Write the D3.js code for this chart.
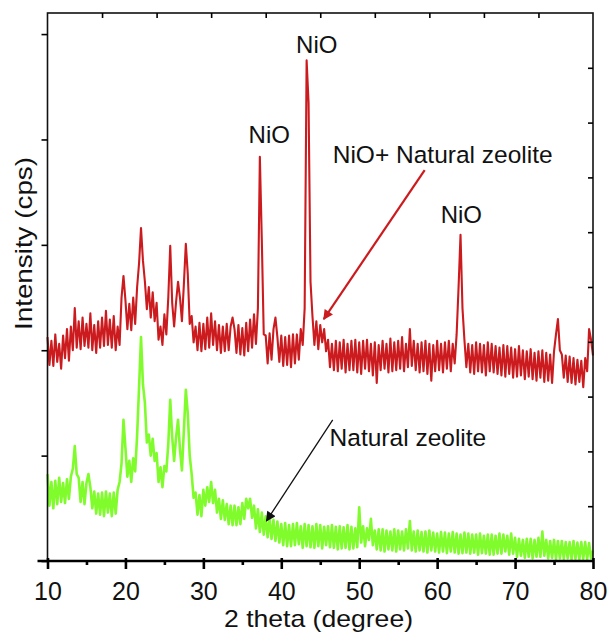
<!DOCTYPE html>
<html>
<head>
<meta charset="utf-8">
<script src="https://cdn.jsdelivr.net/npm/d3@7"></script>
<style>
  body { margin: 0; background: #fff; }
  svg text { font-family: "Liberation Sans", Arial, sans-serif; fill: #111; }
</style>
</head>
<body>
<svg id="chart" width="610" height="633"></svg>
<script>
// scan grid: 10 to 80 degrees, 0.25 degree step
const thetaStart = 10;
const thetaStep = 0.25;

// NiO + natural zeolite (red), 4 readings per degree
const nioZeolite = [
  425, 372, 418, 370,  430, 378, 412, 365,  428, 385, 440, 380,  445, 400, 480, 405,
  455, 402, 462, 408,  450, 405, 470, 400,  448, 395, 455, 405,  462, 408, 475, 410,
  458, 405, 465, 400,  445, 410, 500, 541,  495, 440, 488, 438,  500, 450, 520, 565,
  632, 570, 530, 478,  520, 462, 510, 455,  490, 420, 445, 410,  468, 430, 500, 598,
  490, 445, 492, 530,  500, 455, 525, 602,  545, 450, 465, 415,  445, 400, 452, 398,
  450, 402, 462, 405,  470, 410, 455, 400,  448, 395, 445, 398,  450, 400, 445, 462,
  440, 395, 448, 392,  442, 390, 452, 398,  458, 405, 468, 412,  480, 767, 610, 430,
  428, 375, 432, 382,  440, 462, 425, 378,  428, 370, 425, 372,  428, 368, 430, 375,
  430, 382, 440, 410,  480, 950, 870, 530,  465, 410, 455, 402,  448, 415, 440, 398,
  420, 368, 412, 362,  418, 360, 415, 365,  420, 358, 412, 362,  418, 362, 420, 358,
  415, 355, 418, 365,  420, 360, 412, 352,  415, 338, 410, 362,  418, 365, 412, 358,
  422, 360, 415, 362,  418, 365, 425, 360,  412, 368, 440, 370,  418, 362, 412, 358,
  415, 360, 418, 355,  412, 342, 410, 360,  418, 362, 412, 358,  415, 365, 418, 360,
  412, 375, 430, 520,  619, 480, 420, 368,  412, 358, 410, 355,  415, 360, 412, 358,
  410, 352, 415, 360,  412, 358, 408, 355,  405, 352, 410, 350,  408, 355, 405, 348,
  402, 350, 408, 352,  400, 345, 398, 350,  402, 345, 395, 342,  398, 348, 400, 340,
  395, 342, 392, 338,  398, 430, 459, 400,  392, 348, 390, 340,  388, 338, 385, 335,
  382, 340, 380, 330,  385, 360, 440, 420,  390
];

// natural zeolite (green)
const zeolite = [
  165, 105, 150, 100,  152, 108, 158, 112,  148, 110, 155, 118,  160, 175, 218, 165,
  158, 112, 150, 108,  148, 165, 140, 100,  132,  90, 128,  88,  130,  85, 132,  92,
  128,  85, 130,  90,  135, 150, 185, 268,  215, 160, 190, 150,  195, 170, 238, 330,
  425, 335, 300, 225,  240, 200, 232, 190,  205, 150, 178, 140,  180, 170, 222, 306,
  235, 190, 235, 268,  212, 172, 248, 325,  280, 200, 165, 120,  130,  88, 125,  85,
  135, 105, 140, 112,  150, 110, 135,  92,  118,  80, 115,  78,  108,  70, 105,  68,
  105,  68, 102,  70,  110,  80, 118, 100,  118,  82, 105,  62,   98,  55,  92,  50,
   85,  45,  82,  42,   78,  38,  75,  35,   70,  30,  72,  28,   68,  28,  70,  30,
   72,  32,  66,  25,   70,  28,  68,  26,   66,  25,  70,  28,   68,  24,  65,  30,
   66,  26,  68,  25,   65,  22,  66,  24,   64,  25,  68,  22,   65,  24,  62,  26,
  102,  35,  66,  28,   62,  40,  80,  30,   58,  22,  60,  20,   60,  18,  58,  22,
   56,  20,  60,  18,   58,  22,  56,  20,   60,  24,  76,  20,   56,  18,  58,  20,
   55,  18,  56,  16,   58,  20,  54,  18,   52,  16,  55,  18,   54,  15,  52,  18,
   55,  16,  52,  14,   50,  15,  54,  16,   52,  14,  50,  16,   50,  12,  52,  15,
   48,  14,  50,  12,   50,  12,  48,  14,   52,  14,  50,  18,   48,  12,  52,  14,
   44,   8,  42,  10,   40,   6,  42,   8,   42,   5,  40,   8,   44,   8,  56,  10,
   40,   5,  38,   6,   40,   4,  38,   5,   38,   4,  36,   5,   36,   3,  38,   4,
   35,   3,  36,   4,   36,   3,  34,   5,   20
];

const xTicks = [10, 20, 30, 40, 50, 60, 70, 80];
const xMinorTicks = [15, 25, 35, 45, 55, 65, 75];
const topTicks = [17, 24, 31, 38, 45, 52, 59, 66, 73];
const leftTicks = [0, 200, 400, 600, 800, 1000];
const rightTicks = [104, 208, 312, 416, 520, 624, 728, 832, 936];

const peakLabels = [
  { text: 'NiO', theta: 44.55, cps: 965 },
  { text: 'NiO', theta: 38.46, cps: 793 },
  { text: 'NiO', theta: 63.1, cps: 642 }
];
const sampleLabels = [
  { text: 'NiO+ Natural zeolite', theta: 46.6, cps: 755 },
  { text: 'Natural zeolite', theta: 46.2, cps: 218 }
];
const arrows = [
  { from: [58.4, 742], to: [45.45, 459], color: '#cc1b1e', width: 2.2 },
  { from: [46.6, 268], to: [38.1, 76], color: '#111', width: 1.3 }
];

const margin = { top: 13, right: 17, bottom: 72, left: 47.5 };
const width = 610 - margin.left - margin.right;
const height = 633 - margin.top - margin.bottom;

const svg = d3.select('#chart');
const g = svg.append('g').attr('transform', `translate(${margin.left},${margin.top})`);

const xScale = d3.scaleLinear().domain([10, 80]).range([0, width]);
const yScale = d3.scaleLinear().domain([0, 1040]).range([height, 0]);

const toPoints = values => values.map((v, i) => ({ theta: thetaStart + i * thetaStep, cps: v }));

const line = d3
  .line()
  .x(d => xScale(d.theta))
  .y(d => yScale(d.cps));

g.append('path')
  .attr('d', line(toPoints(zeolite)))
  .style('fill', 'none')
  .style('stroke', '#80fc2c')
  .style('stroke-width', 2.6)
  .style('stroke-linejoin', 'round');

g.append('path')
  .attr('d', line(toPoints(nioZeolite)))
  .style('fill', 'none')
  .style('stroke', '#cc1b1e')
  .style('stroke-width', 2.1)
  .style('stroke-linejoin', 'round');

// frame
g.append('rect')
  .attr('width', width)
  .attr('height', height)
  .style('fill', 'none')
  .style('stroke', '#111')
  .style('stroke-width', 1.6);

// bottom axis
const bottomAxis = g.append('g')
  .attr('transform', `translate(0,${height})`)
  .call(d3.axisBottom(xScale).tickValues(xTicks).tickSize(8).tickFormat(d3.format('d')));
bottomAxis.select('.domain').attr('stroke-width', 2.6).attr('d', `M-10,0H${width}`);
bottomAxis.selectAll('.tick line').attr('stroke-width', 2.6).attr('y1', -3);
bottomAxis.selectAll('.tick text')
  .attr('y', 39).attr('dy', 0)
  .style('font-size', '25px');

g.append('g')
  .attr('transform', `translate(0,${height})`)
  .call(d3.axisBottom(xScale).tickValues(xMinorTicks).tickSize(4).tickFormat(''))
  .call(a => a.select('.domain').remove())
  .selectAll('.tick line').attr('stroke-width', 2.6);

// top, left, right ticks (no labels)
g.append('g')
  .call(d3.axisBottom(xScale).tickValues(topTicks).tickSize(5).tickFormat(''))
  .call(a => a.select('.domain').remove())
  .selectAll('.tick line').attr('stroke-width', 1.6);

g.append('g')
  .call(d3.axisLeft(yScale).tickValues(leftTicks).tickSize(6).tickFormat(''))
  .call(a => a.select('.domain').remove())
  .selectAll('.tick line').attr('stroke-width', 1.6);

g.append('g')
  .attr('transform', `translate(${width},0)`)
  .call(d3.axisLeft(yScale).tickValues(rightTicks).tickSize(5).tickFormat(''))
  .call(a => a.select('.domain').remove())
  .selectAll('.tick line').attr('stroke-width', 1.6);

// axis titles
svg.append('text')
  .attr('x', 318.5)
  .attr('y', 627)
  .attr('text-anchor', 'middle')
  .attr('textLength', 189)
  .attr('lengthAdjust', 'spacingAndGlyphs')
  .style('font-size', '24px')
  .text('2 theta (degree)');

svg.append('text')
  .attr('transform', 'translate(32,243.5) rotate(-90)')
  .attr('text-anchor', 'middle')
  .attr('textLength', 173)
  .attr('lengthAdjust', 'spacingAndGlyphs')
  .style('font-size', '24px')
  .text('Intensity (cps)');

// arrows
const defs = svg.append('defs');
arrows.forEach((a, i) => {
  defs.append('marker')
    .attr('id', `head${i}`)
    .attr('viewBox', '0 0 10 10')
    .attr('refX', 9)
    .attr('refY', 5)
    .attr('markerUnits', 'userSpaceOnUse')
    .attr('markerWidth', 14)
    .attr('markerHeight', 10)
    .attr('orient', 'auto')
    .append('path')
    .attr('d', 'M0,0L10,5L0,10z')
    .style('fill', a.color);

  g.append('line')
    .attr('x1', xScale(a.from[0]))
    .attr('y1', yScale(a.from[1]))
    .attr('x2', xScale(a.to[0]))
    .attr('y2', yScale(a.to[1]))
    .style('stroke', a.color)
    .style('stroke-width', a.width)
    .attr('marker-end', `url(#head${i})`);
});

// labels
g.selectAll('.peak-label')
  .data(peakLabels)
  .enter()
  .append('text')
  .attr('class', 'peak-label')
  .attr('x', d => xScale(d.theta))
  .attr('y', d => yScale(d.cps))
  .attr('text-anchor', 'middle')
  .style('font-size', '24px')
  .text(d => d.text);

g.selectAll('.sample-label')
  .data(sampleLabels)
  .enter()
  .append('text')
  .attr('class', 'sample-label')
  .attr('x', d => xScale(d.theta))
  .attr('y', d => yScale(d.cps))
  .style('font-size', '24.5px')
  .text(d => d.text);
</script>
</body>
</html>
